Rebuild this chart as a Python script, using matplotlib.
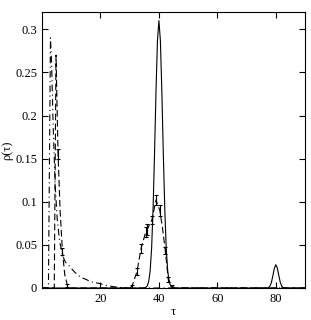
import matplotlib
matplotlib.use('Agg')
import matplotlib.pyplot as plt
from matplotlib.ticker import FormatStrFormatter

plt.rcParams['font.family'] = ['Liberation Serif', 'DejaVu Serif']
plt.rcParams['mathtext.fontset'] = 'stix'

# solid curve: narrow peaks at tau=40 and tau=80
tau_solid = [0, 34.5, 35, 35.5, 36, 36.5, 37, 37.5, 38, 38.5, 39, 39.5, 40,
             40.5, 41, 41.5, 42, 42.5, 43, 43.5, 44, 44.5, 45, 45.5,
             77, 77.5, 78, 78.5, 79, 79.5, 80, 80.5, 81, 81.5, 82, 82.5, 83, 90]
rho_solid = [0, 0, 0.0001, 0.0006, 0.0024, 0.0074, 0.020, 0.046, 0.092, 0.156,
             0.228, 0.287, 0.310, 0.287, 0.228, 0.156, 0.092, 0.046, 0.020,
             0.0074, 0.0024, 0.0006, 0.0001, 0,
             0, 0.0005, 0.0023, 0.0067, 0.0146, 0.023, 0.027, 0.023, 0.0146,
             0.0067, 0.0023, 0.0005, 0, 0]

# dash-dot curve: sharp peak near tau=3 with a long tail
tau_dd = [0, 2.2, 2.9, 3.3, 3.8, 4.5, 5.2, 6.0, 7.0, 8.0, 9.5, 11, 13, 15,
          17, 20, 22, 24.5, 27, 30, 90]
rho_dd = [0, 0, 0.29, 0.26, 0.19, 0.12, 0.08, 0.055, 0.038, 0.030, 0.025,
          0.019, 0.013, 0.010, 0.007, 0.005, 0.003, 0.0015, 0.0005, 0, 0]

# dashed curve with error bars
tau_da = [0, 4.2, 4.8, 5.5, 6.2, 7.0, 7.8, 8.7, 9.5, 30, 30.8, 32.5, 33.9,
          35.5, 36.0, 37.6, 39.0, 40.3, 41.2, 42.2, 43.2, 44.5, 45.5, 90]
rho_da = [0, 0, 0.27, 0.155, 0.09, 0.042, 0.015, 0.003, 0, 0, 0.002, 0.019,
          0.046, 0.065, 0.068, 0.079, 0.102, 0.090, 0.070, 0.043, 0.010,
          0.002, 0, 0]
tau_err = [5.5, 7.0, 8.7, 30.8, 32.5, 33.9, 35.5, 36.0, 37.6, 39.0, 40.3,
           42.2, 43.2, 44.5]
rho_err = [0.155, 0.042, 0.003, 0.002, 0.019, 0.046, 0.065, 0.068, 0.079,
           0.102, 0.090, 0.043, 0.010, 0.002]
err = [0.006, 0.004, 0.002, 0.002, 0.004, 0.005, 0.006, 0.006, 0.005,
       0.006, 0.006, 0.004, 0.003, 0.002]

fig = plt.figure(figsize=(3.11, 3.2), dpi=100)
ax = fig.add_axes([0.135, 0.1, 0.846, 0.8625])

ax.plot(tau_solid, rho_solid, color='black', lw=0.8)
ax.plot(tau_dd, rho_dd, color='black', lw=0.8, dashes=(6, 3, 1, 3))
ax.plot(tau_da, rho_da, color='black', lw=0.8, dashes=(6, 3))
ax.errorbar(tau_err, rho_err, yerr=err, fmt='none', ecolor='black',
            elinewidth=0.8, capsize=1.6, capthick=0.8)

ax.set_xlim(0, 90)
ax.set_ylim(0, 0.32)
ax.set_xticks([20, 40, 60, 80])
ax.set_yticks([0, 0.05, 0.1, 0.15, 0.2, 0.25, 0.3])
ax.yaxis.set_major_formatter(FormatStrFormatter('%g'))
ax.tick_params(direction='in', top=True, right=True, length=4, width=0.8,
               labelsize=9)
for s in ax.spines.values():
    s.set_linewidth(0.8)

ax.set_xlabel('τ', fontsize=9, labelpad=1)
ax.set_ylabel('ρ(τ)', fontsize=9, labelpad=1)

fig.savefig('out.png', dpi=100)
